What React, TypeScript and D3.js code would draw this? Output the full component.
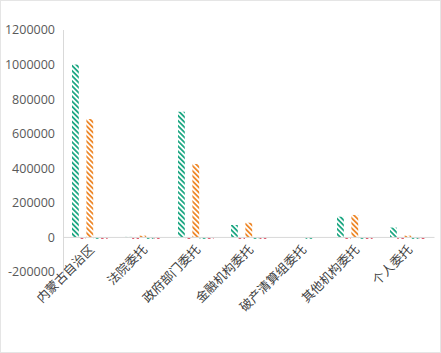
import React from "react";
import * as d3 from "d3";

const categories = ["内蒙古自治区", "法院委托", "政府部门委托", "金融机构委托", "破产清算组委托", "其他机构委托", "个人委托"];
const seriesA = [1000000, 3000, 727000, 72000, 0, 120000, 57000];
const seriesB = [-8000, -8000, -8000, -8000, 0, -8000, -8000];
const seriesC = [685000, 10000, 425000, 85000, 0, 130000, 10000];
const seriesD = [-8000, -8000, -8000, -8000, -8000, -8000, -8000];
const seriesE = [-8000, -8000, -8000, -8000, 0, -8000, -8000];
const seriesList = [seriesA, seriesB, seriesC, seriesD, seriesE];
const seriesColors = ["#20a884", "#d8384f", "#ee8a2e", "#20a884", "#d8384f"];
const yTicks = [-200000, 0, 200000, 400000, 600000, 800000, 1000000, 1200000];

const W = 441, H = 353;
const left = 63.5, right = 434.5, top = 30, bottom = 272;

export default function App() {
  const x = d3.scaleBand<string>().domain(categories).range([left, right]).paddingInner(0).paddingOuter(0);
  const y = d3.scaleLinear().domain([-200000, 1200000]).range([bottom, top]);
  const barW = 7.2;
  const groupW = barW * seriesList.length;
  const y0 = y(0);
  return (
    <svg width={W} height={H} style={{ position: "absolute", left: 0, top: 0, background: "#fff" }}>
      <defs>
        {seriesColors.map((c, i) => (
          <pattern key={i} id={`hatch${i}`} patternUnits="userSpaceOnUse" width={3.6} height={3.6} patternTransform="rotate(-45)">
            <rect width={3.6} height={3.6} fill="#fff" />
            <rect x={0} y={0} width={1.8} height={3.6} fill={c} />
          </pattern>
        ))}
      </defs>
      <rect x={0.5} y={0.5} width={W - 1} height={H - 1} fill="#fff" stroke="#e5e5e5" />
      {yTicks.map((t) => (
        <text key={t} x={55} y={y(t)} dy="0.35em" textAnchor="end" fontFamily="'Open Sans', 'Liberation Sans', sans-serif" fontSize={12.5} fill="#595959">
          {t}
        </text>
      ))}
      <line x1={left} x2={left} y1={top} y2={bottom + 3} stroke="#d9d9d9" strokeWidth={1} />
      {categories.map((c, ci) => {
        const cx = (x(c) as number) + x.bandwidth() / 2;
        return seriesList.map((s, si) => {
          const v = s[ci];
          if (v === 0) return null;
          const bx = cx - groupW / 2 + si * barW;
          const yv = y(v);
          return (
            <rect key={`${ci}-${si}`} x={bx} y={Math.min(yv, y0)} width={barW - 0.4} height={Math.abs(yv - y0)} fill={`url(#hatch${si})`} />
          );
        });
      })}
      <line x1={left} x2={right} y1={y0} y2={y0} stroke="#d9d9d9" strokeWidth={1} />
      {categories.map((c) => {
        const cx = (x(c) as number) + x.bandwidth() / 2;
        return (
          <text key={c} transform={`translate(${cx + 5},${y0 + 13}) rotate(-45)`} textAnchor="end" fontFamily="'Noto Sans CJK SC', sans-serif" fontSize={12.5} fill="#404040">
            {c}
          </text>
        );
      })}
    </svg>
  );
}
